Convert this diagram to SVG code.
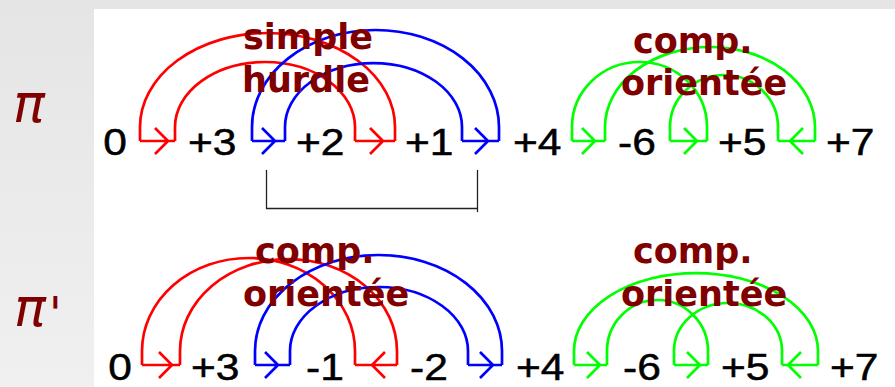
<svg xmlns="http://www.w3.org/2000/svg" width="895" height="387" viewBox="0 0 895 387">
<defs>
<linearGradient id="bg" x1="0" y1="0" x2="0" y2="1">
<stop offset="0" stop-color="#e5e5e5"/>
<stop offset="1" stop-color="#f0f0f0"/>
</linearGradient>
</defs>
<style>
.arc{fill:none;stroke-width:2.7;stroke-linejoin:miter}
.r{stroke:#ff0000}.b{stroke:#0000ff}.g{stroke:#00ff00}
.num{font-family:"Liberation Sans",Arial,sans-serif;font-size:36.5px;fill:#000;stroke:#000;stroke-width:0.5}
.lab{font-family:"DejaVu Sans",Verdana,sans-serif;font-weight:bold;font-size:35px;fill:#800000}
.pi{font-family:"DejaVu Sans",sans-serif;font-size:53px;fill:#800000}
.br{fill:none;stroke:#222;stroke-width:1.3}
</style>
<rect width="895" height="387" fill="url(#bg)"/>
<rect x="94" y="9" width="801" height="378" fill="#fff"/>

<g id="connectors">
<!-- row 1 arcs -->
<path class="arc r" d="M140,141 V127 A127.5,94 0 0 1 395,127 V141"/>
<path class="arc r" d="M175,141 V127 A90,65 0 0 1 355,127 V141"/>
<path class="arc b" d="M252,141 V127 A123.5,97 0 0 1 499,127 V141"/>
<path class="arc b" d="M285,141 V127 A88.5,64 0 0 1 462,127 V141"/>
<path class="arc g" d="M572,141 V127 A67.5,65 0 0 1 707,127 V141"/>
<path class="arc g" d="M605,141 V127 A105,80 0 0 1 815,127 V141"/>
<path class="arc g" d="M670,141 V127 A54,52 0 0 1 778,127 V141"/>
<!-- row 1 adjacencies -->
<path class="arc r" d="M140,141 H175 M155,128 L168,141 L155,154"/>
<path class="arc b" d="M252,141 H285 M262,128 L275,141 L262,154"/>
<path class="arc r" d="M355,141 H395 M370,128 L383,141 L370,154"/>
<path class="arc b" d="M462,141 H499 M475,128 L488,141 L475,154"/>
<path class="arc g" d="M572,141 H605 M582,128 L595,141 L582,154"/>
<path class="arc g" d="M670,141 H707 M684,128 L697,141 L684,154"/>
<path class="arc g" d="M778,141 H815 M803,128 L790,141 L803,154"/>
<!-- row 2 arcs -->
<path class="arc r" d="M142,365 V351 A106.5,93 0 0 1 355,351 V365"/>
<path class="arc r" d="M180,365 V351 A108.5,92 0 0 1 397,351 V365"/>
<path class="arc b" d="M255,365 V351 A123.5,96 0 0 1 502,351 V365"/>
<path class="arc b" d="M290,365 V351 A89,64 0 0 1 468,351 V365"/>
<path class="arc g" d="M574,365 V351 A122,78 0 0 1 818,351 V365"/>
<path class="arc g" d="M607,365 V351 A50.5,51 0 0 1 708,351 V365"/>
<path class="arc g" d="M674,365 V351 A54,48 0 0 1 782,351 V365"/>
<!-- row 2 adjacencies -->
<path class="arc r" d="M142,365 H180 M159,352 L172,365 L159,378"/>
<path class="arc b" d="M255,365 H290 M265,352 L278,365 L265,378"/>
<path class="arc r" d="M355,365 H397 M385,352 L372,365 L385,378"/>
<path class="arc b" d="M468,365 H502 M480,352 L493,365 L480,378"/>
<path class="arc g" d="M574,365 H607 M587,352 L600,365 L587,378"/>
<path class="arc g" d="M674,365 H708 M687,352 L700,365 L687,378"/>
<path class="arc g" d="M782,365 H818 M801,352 L788,365 L801,378"/>
<!-- bracket -->
<path class="br" d="M266.5,170 V208.5 H477.5"/>
<path class="br" d="M477.5,170 V212"/>
</g>

<g id="row1-numbers">
<g id="n1-0"><text class="num" transform="translate(103.2,154.5) scale(1.165,1)">0</text></g>
<g id="n1-p3"><text class="num" transform="translate(187.9,154.5) scale(1.165,1)">+3</text></g>
<g id="n1-p2"><text class="num" transform="translate(295.9,154.5) scale(1.165,1)">+2</text></g>
<g id="n1-p1"><text class="num" transform="translate(404.9,154.5) scale(1.165,1)">+1</text></g>
<g id="n1-p4"><text class="num" transform="translate(512.9,154.5) scale(1.165,1)">+4</text></g>
<g id="n1-m6"><text class="num" transform="translate(618.1,154.5) scale(1.165,1)">-6</text></g>
<g id="n1-p5"><text class="num" transform="translate(717.9,154.5) scale(1.165,1)">+5</text></g>
<g id="n1-p7"><text class="num" transform="translate(825.9,154.5) scale(1.165,1)">+7</text></g>
</g>
<g id="row2-numbers">
<g id="n2-0"><text class="num" transform="translate(108.2,379.5) scale(1.165,1)">0</text></g>
<g id="n2-p3"><text class="num" transform="translate(190.9,379.5) scale(1.165,1)">+3</text></g>
<g id="n2-m1"><text class="num" transform="translate(306.1,379.5) scale(1.165,1)">-1</text></g>
<g id="n2-m2"><text class="num" transform="translate(410.1,379.5) scale(1.165,1)">-2</text></g>
<g id="n2-p4"><text class="num" transform="translate(515.9,379.5) scale(1.165,1)">+4</text></g>
<g id="n2-m6"><text class="num" transform="translate(623.1,379.5) scale(1.165,1)">-6</text></g>
<g id="n2-p5"><text class="num" transform="translate(720.9,379.5) scale(1.165,1)">+5</text></g>
<g id="n2-p7"><text class="num" transform="translate(829.9,379.5) scale(1.165,1)">+7</text></g>
</g>

<g id="label-simple-hurdle">
<text class="lab" x="243" y="49">simple</text>
<text class="lab" x="242" y="92">hurdle</text>
</g>
<g id="label-comp1">
<text class="lab" x="633" y="53">comp.</text>
<text class="lab" x="621" y="95">orientée</text>
</g>
<g id="label-comp2">
<text class="lab" x="255" y="263">comp.</text>
<text class="lab" x="243" y="306">orientée</text>
</g>
<g id="label-comp3">
<text class="lab" x="633" y="263">comp.</text>
<text class="lab" x="621" y="306">orientée</text>
</g>

<g id="pi">
<text class="pi" x="13" y="122" font-style="italic">π</text>
</g>
<g id="pi-prime">
<text class="pi" x="14" y="326"><tspan font-style="italic">π</tspan><tspan x="49" dy="4" font-size="46">'</tspan></text>
</g>
</svg>
